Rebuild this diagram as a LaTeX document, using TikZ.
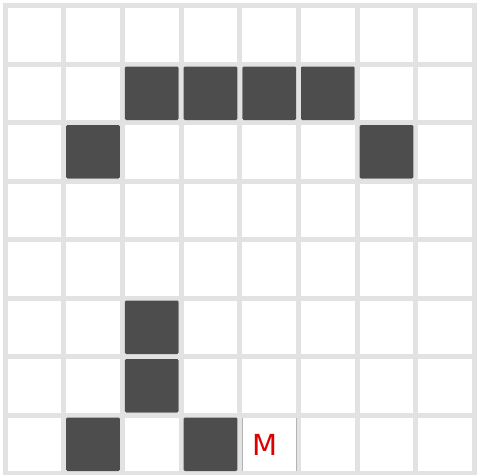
\documentclass[tikz,border=0pt]{standalone}
\usepackage{fontspec}
\newfontfamily\labelfont{DejaVu Sans}
\definecolor{gridgray}{HTML}{E2E2E2}
\definecolor{cellfill}{HTML}{4D4D4D}
\definecolor{mred}{HTML}{DD0000}
\definecolor{mborder}{HTML}{B4B4B4}
\begin{document}
\begin{tikzpicture}[x=1pt,y=-1pt,
  gridline/.style={draw=gridgray,line width=5pt,line cap=rect},
  darkcell/.style={fill=cellfill,rounded corners=1.2pt},
  mside/.style={draw=mborder,line width=0.9pt},
  mlabel/.style={text=mred,inner sep=0pt,font=\labelfont\fontsize{29}{29}\selectfont}]
\useasboundingbox (0,0) rectangle (478,474);
\fill[white] (0,0) rectangle (478,474);
% grid lines
\foreach \i in {0,...,8} {
  \draw[gridline] ({5+58.7*\i},5.5) -- ({5+58.7*\i},473.5);
  \draw[gridline] (5,{5.5+58.5*\i}) -- (474.6,{5.5+58.5*\i});
}
% dark cells (column/row, counted from top left)
\foreach \c/\r in {2/1,3/1,4/1,5/1,1/2,6/2,2/5,2/6,1/7,3/7} {
  \fill[darkcell] ({5+58.7*\c+2.5},{5.5+58.5*\r+2.5}) rectangle ({5+58.7*(\c+1)-2.5},{5.5+58.5*(\r+1)-2.5});
}
% marked cell
\coordinate (mtl) at (242.3,417.5);
\coordinate (mbl) at (242.3,471);
\coordinate (mtr) at (296.2,417.5);
\coordinate (mbr) at (296.2,471);
\draw[mside] (mtl) -- (mbl);
\draw[mside] (mtr) -- (mbr);
\node[mlabel] (m) at (265.5,445) {M};
\end{tikzpicture}
\end{document}
